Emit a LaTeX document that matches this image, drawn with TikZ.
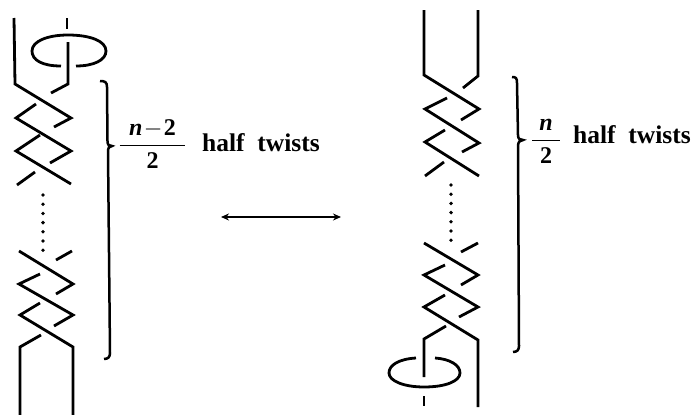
\documentclass[tikz,border=0pt]{standalone}
\usepackage{amsmath}
\usepackage{fontspec}
\setmainfont{Liberation Serif}
\usepackage{tikz}
\usetikzlibrary{arrows.meta,positioning}

\begin{document}
\begin{tikzpicture}[
  x=1pt, y=-1pt,
  strand/.style={line width=2.8pt, line join=miter},
  dotrow/.style={line width=3.8pt, line cap=round, dash pattern=on 0pt off 9.2pt},
  bracket/.style={line width=2.5pt},
  frac/.style={inner sep=0pt, scale=2.4},
  twists/.style={inner sep=0pt, anchor=base west, font=\fontsize{25.5}{28}\selectfont\bfseries},
  arrow/.style={{Stealth[length=8pt,width=7pt]}-{Stealth[length=8pt,width=7pt]}, line width=1.3pt}]
\useasboundingbox (0,0) rectangle (694,415);
% left braid
\draw[strand] (14,18) -- (15,84) -- (71,118) -- (54,127);
\draw[strand] (67,18) -- (67,29);
\draw[strand] (68,42) -- (68,84) -- (51,93);
\draw[strand] (36,104) -- (16,118) -- (71,151) -- (50,163);
\draw[strand] (40,135) -- (16,151) -- (71,184);
\draw[strand] (35,172) -- (17,185);
\draw[dotrow] (43,195) -- (43,252);
\draw[strand] (19,251) -- (73,284) -- (56,294);
\draw[strand] (72,251) -- (56,260);
\draw[strand] (40,274) -- (19,284) -- (73,315) -- (54,326);
\draw[strand] (40,303) -- (20,315) -- (73,347) -- (73,415);
\draw[strand] (41,335) -- (20,347) -- (20,415);
\draw[strand] (61,66) .. controls (42,66) and (32,60) .. (32,51)
  .. controls (32,41) and (48,35) .. (68,35)
  .. controls (90,35) and (106,41) .. (106,51)
  .. controls (106,60) and (94,66) .. (76,66);
% right braid
\draw[strand] (424,10) -- (424,75) -- (479,109) -- (461,120);
\draw[strand] (478,10) -- (478,76) -- (463,88);
\draw[strand] (447,98) -- (425,109) -- (479,143) -- (462,152);
\draw[strand] (445,130) -- (425,142) -- (479,176);
\draw[strand] (444,162) -- (425,176);
\draw[dotrow] (451,185) -- (451,242);
\draw[strand] (424,243) -- (478,275) -- (461,285);
\draw[strand] (478,243) -- (461,252);
\draw[strand] (445,265) -- (424,275) -- (478,307) -- (459,317);
\draw[strand] (445,295) -- (424,307) -- (478,340) -- (478,407);
\draw[strand] (446,326) -- (424,339) -- (424,377);
\draw[strand] (424,396) -- (424,406);
\draw[strand] (416,358) .. controls (399,359) and (389,365) .. (389,373)
  .. controls (389,381) and (404,387) .. (424,387)
  .. controls (446,387) and (460,381) .. (460,373)
  .. controls (460,365) and (450,359) .. (435,358);
% brackets
\draw[bracket] (100,81) .. controls (105,81) and (107,82) .. (107,87) -- (107.5,141)
  .. controls (107.5,145) and (109,146) .. (112,146)
  .. controls (109,146) and (108,148) .. (108,152) -- (110,353)
  .. controls (110,357) and (108,359) .. (104,359);
\draw[bracket] (512,77) .. controls (516,77) and (517,78) .. (517,83) -- (518,135)
  .. controls (518,139) and (520,140) .. (523,140)
  .. controls (520,140) and (518,142) .. (518,146) -- (519,346)
  .. controls (519,350) and (517,352) .. (513,352);
% labels
\node[frac] (leftfrac) at (152.5,144) {$\dfrac{\hspace{0.4em}\textbf{\textit{n}}\!-\!\textbf{2}\hspace{0.4em}}{\textbf{2}}$};
\node[twists] (lefttext) at (202,151) {half\ \ twists};
\node[frac] (rightfrac) at (546,141) {$\dfrac{\hspace{0.3em}\textbf{\textit{n}}\hspace{0.3em}}{\textbf{2}}$};
\node[twists] (righttext) at (573,143) {half\ \ twists};
\coordinate (swapa) at (221,217);
\coordinate (swapb) at (341,217);
\draw[arrow] (swapa) -- (swapb);
\end{tikzpicture}
\end{document}
